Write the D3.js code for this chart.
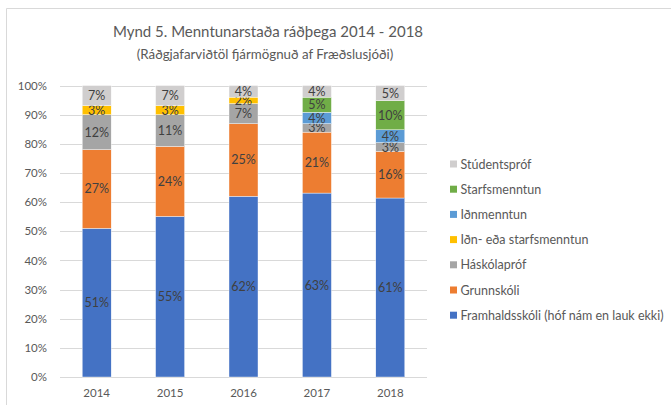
<!DOCTYPE html>
<html>
<head>
<meta charset="utf-8">
<script src="https://cdn.jsdelivr.net/npm/d3@7"></script>
<style>
  body { margin: 0; background: #fff; }
  svg { display: block; font-family: Lato, "Open Sans", sans-serif; }
</style>
</head>
<body>
<svg id="chart"></svg>
<script>
const years = ["2014", "2015", "2016", "2017", "2018"];

// stacking order, bottom to top
const series = [
  "Framhaldsskóli (hóf nám en lauk ekki)",
  "Grunnskóli",
  "Háskólapróf",
  "Iðn- eða starfsmenntun",
  "Iðnmenntun",
  "Starfsmenntun",
  "Stúdentspróf"
];
const colors = ["#4472C4", "#ED7D31", "#A5A5A5", "#FFC000", "#5B9BD5", "#70AD47", "#D0CECE"];

// share in percent, one array per series, by year
const framhald   = [51.0, 55.1, 62.0, 63.1, 61.4];
const grunn      = [27.0, 24.0, 24.9, 20.9, 16.0];
const haskola    = [12.0, 10.9, 6.9, 2.9, 3.0];
const idnEda     = [3.1, 3.1, 2.2, 0, 0];
const idn        = [0, 0, 0, 3.9, 4.4];
const starfs     = [0, 0, 0, 5.2, 10.0];
const students   = [6.9, 6.9, 4.0, 4.0, 5.2];

const yTicks = [0, 10, 20, 30, 40, 50, 60, 70, 80, 90, 100];

const values = [framhald, grunn, haskola, idnEda, idn, starfs, students];
const rows = years.map((yr, i) => {
  const r = {year: yr};
  series.forEach((s, k) => r[s] = values[k][i]);
  return r;
});

const width = 671, height = 405;
const margin = {top: 85.5, right: 244, bottom: 28, left: 60};

const svg = d3.select("#chart")
    .attr("width", width)
    .attr("height", height);

// chart frame
svg.append("path")
    .attr("d", `M6.5,${height} V8.5 H${width}`)
    .attr("fill", "none")
    .attr("stroke", "#D9D9D9")
    .attr("stroke-width", 1);

const x = d3.scaleBand()
    .domain(years)
    .range([margin.left, width - margin.right])
    .paddingInner(0.605)
    .paddingOuter(0.3025);

const y = d3.scaleLinear()
    .domain([0, 100])
    .range([height - margin.bottom, margin.top]);

// gridlines
svg.append("g")
    .selectAll("line")
    .data(yTicks)
    .join("line")
    .attr("x1", margin.left)
    .attr("x2", width - margin.right)
    .attr("y1", d => Math.round(y(d)) + 0.5)
    .attr("y2", d => Math.round(y(d)) + 0.5)
    .attr("stroke", "#D9D9D9")
    .attr("stroke-width", 1);

// y axis labels
const yAxis = g => g
    .attr("transform", `translate(${margin.left},0)`)
    .call(d3.axisLeft(y).tickValues(yTicks).tickFormat(d => d + "%").tickSize(0).tickPadding(13))
    .call(g => g.select(".domain").remove())
    .call(g => g.selectAll("text")
        .attr("fill", "#595959")
        .style("font-family", "Lato, sans-serif")
        .style("font-size", "11.5px"));
svg.append("g").call(yAxis);

// x axis labels
const xAxis = g => g
    .attr("transform", `translate(0,${height - margin.bottom})`)
    .call(d3.axisBottom(x).tickSize(0).tickPadding(12))
    .call(g => g.select(".domain").remove())
    .call(g => g.selectAll("text")
        .attr("fill", "#595959")
        .style("font-family", "Lato, sans-serif")
        .style("font-size", "11.5px"));
svg.append("g").call(xAxis);

const stacked = d3.stack().keys(series)(rows);

const layer = svg.append("g")
    .selectAll("g")
    .data(stacked)
    .join("g")
    .attr("fill", (d, i) => colors[i]);

layer.selectAll("rect")
    .data(d => d)
    .join("rect")
    .attr("x", d => x(d.data.year))
    .attr("width", x.bandwidth())
    .attr("y", d => y(d[1]))
    .attr("height", d => y(d[0]) - y(d[1]))
    .attr("stroke", "#fff")
    .attr("stroke-width", 0.4);

// data labels
layer.selectAll("text")
    .data(d => d.filter(p => p[1] - p[0] > 0))
    .join("text")
    .attr("x", d => x(d.data.year) + x.bandwidth() / 2)
    .attr("y", d => y((d[0] + d[1]) / 2))
    .attr("dy", "0.36em")
    .attr("text-anchor", "middle")
    .attr("fill", "#404040")
    .style("font-size", "12.5px")
    .text(d => Math.round(d[1] - d[0]) + "%");

// title
svg.append("text")
    .attr("x", 268)
    .attr("y", 37)
    .attr("text-anchor", "middle")
    .attr("fill", "#595959")
    .style("font-size", "15px")
    .text("Mynd 5. Menntunarstaða ráðþega 2014 - 2018");

svg.append("text")
    .attr("x", 265)
    .attr("y", 59)
    .attr("text-anchor", "middle")
    .attr("fill", "#595959")
    .style("font-size", "13.3px")
    .text("(Ráðgjafarviðtöl fjármögnuð af Fræðslusjóði)");

// legend, top to bottom reversed from stack
const legendItems = series.map((s, i) => ({name: s, color: colors[i]})).reverse();
const legend = svg.append("g")
    .selectAll("g")
    .data(legendItems)
    .join("g")
    .attr("transform", (d, i) => `translate(450,${164 + i * 25.2})`);

legend.append("rect")
    .attr("x", 0)
    .attr("y", -3.5)
    .attr("width", 7)
    .attr("height", 7)
    .attr("fill", d => d.color);

legend.append("text")
    .attr("x", 10.5)
    .attr("dy", "0.36em")
    .attr("fill", "#595959")
    .style("font-size", "12.5px")
    .text(d => d.name);
</script>
</body>
</html>
